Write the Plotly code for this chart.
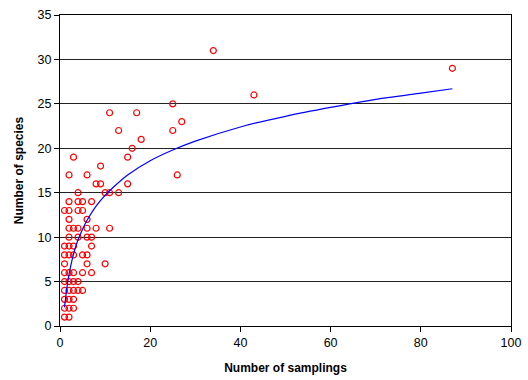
import plotly.graph_objects as go

# Scatter data: number of samplings (x) vs number of species (y)
samplings = [34, 87, 43, 25, 11, 17, 27, 13, 25, 18, 16, 3, 15, 9, 2, 6, 26, 8, 9, 15,
             4, 10, 11, 13,
             2, 4, 5, 7,
             1, 2, 4, 5,
             2, 6,
             2, 3, 4, 6, 8, 11,
             2, 4, 6, 7,
             1, 2, 3, 7,
             1, 2, 3, 5, 6,
             1, 6, 10,
             1, 2, 3, 5, 7,
             1, 2, 3, 4,
             1, 2, 3, 4, 5,
             1, 2, 3,
             1, 2, 3,
             1, 2]
species = [31, 29, 26, 25, 24, 24, 23, 22, 22, 21, 20, 19, 19, 18, 17, 17, 17, 16, 16, 16,
           15, 15, 15, 15,
           14, 14, 14, 14,
           13, 13, 13, 13,
           12, 12,
           11, 11, 11, 11, 11, 11,
           10, 10, 10, 10,
           9, 9, 9, 9,
           8, 8, 8, 8, 8,
           7, 7, 7,
           6, 6, 6, 6, 6,
           5, 5, 5, 5,
           4, 4, 4, 4, 4,
           3, 3, 3,
           2, 2, 2,
           1, 1]

# Trend curve
trend_x = [1, 1.5, 2, 3, 4, 5, 6, 8, 10, 12, 15, 20, 25, 30, 40, 50, 60, 70, 80, 87]
trend_y = [2.1, 4.2, 5.8, 8.1, 9.7, 10.9, 11.9, 13.5, 14.7, 15.7, 17.0, 18.6, 19.8, 20.8,
           22.4, 23.6, 24.6, 25.5, 26.2, 26.7]

x_ticks = [0, 20, 40, 60, 80, 100]
y_ticks = [0, 5, 10, 15, 20, 25, 30, 35]

FONT = "Arial, 'Liberation Sans', sans-serif"

fig = go.Figure()
fig.add_trace(go.Scatter(
    x=samplings, y=species, mode="markers",
    marker=dict(symbol="circle-open", size=6, color="#ff0000", line=dict(width=1.2, color="#ff0000")),
    showlegend=False, cliponaxis=False,
))
fig.add_trace(go.Scatter(
    x=trend_x, y=trend_y, mode="lines",
    line=dict(color="#0000ff", width=1.2, shape="spline", smoothing=0.6),
    showlegend=False,
))

fig.update_layout(
    width=528, height=380,
    margin=dict(l=60, r=17, t=15, b=54),
    paper_bgcolor="white", plot_bgcolor="white",
    font=dict(family=FONT, size=12.5, color="black"),
)
fig.update_xaxes(
    range=[0, 100], tickvals=x_ticks, ticktext=[str(v) for v in x_ticks],
    showgrid=False, zeroline=False, automargin=False,
    showline=True, linecolor="black", linewidth=1, mirror=True,
    ticks="outside", ticklen=5, tickcolor="black",
    title=dict(text="<b>Number of samplings</b>", font=dict(family=FONT, size=12), standoff=14),
)
fig.update_yaxes(
    range=[0, 35], tickvals=y_ticks, ticktext=[str(v) for v in y_ticks],
    showgrid=True, gridcolor="#222222", gridwidth=1, zeroline=False, automargin=False,
    showline=True, linecolor="black", linewidth=1, mirror=True,
    ticks="outside", ticklen=5, tickcolor="black",
    title=dict(text="<b>Number of species</b>", font=dict(family=FONT, size=12), standoff=11),
)

fig.write_html(
    "out.html",
    config={"displayModeBar": False},
    post_script="document.body.style.margin='0';document.body.style.overflow='hidden';",
)
